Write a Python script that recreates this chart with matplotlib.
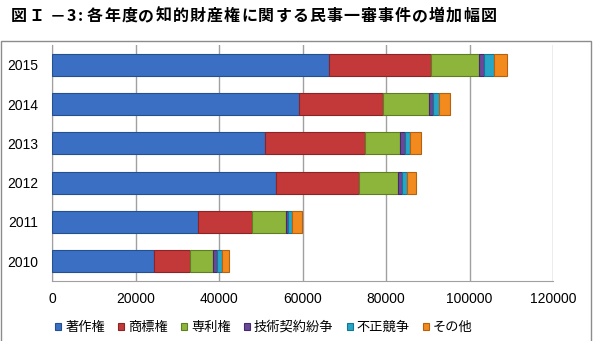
import matplotlib
matplotlib.use("Agg")
import matplotlib.pyplot as plt
from matplotlib.patches import Rectangle
import numpy as np

plt.rcParams['font.family'] = ['Noto Sans CJK JP', 'DejaVu Sans']

years = ["2010", "2011", "2012", "2013", "2014", "2015"]
series = ["著作権", "商標権", "専利権", "技術契約紛争", "不正競争", "その他"]
copyright_ = [24400, 35000, 53700, 51000, 59200, 66300]
trademark = [8700, 12900, 19800, 24000, 20100, 24500]
patent = [5500, 8100, 9400, 8400, 11000, 11500]
tech_contract = [900, 500, 900, 1100, 1000, 1200]
unfair_comp = [1200, 1000, 1200, 1300, 1400, 2400]
other = [1700, 2400, 2200, 2600, 2600, 3100]
values = [copyright_, trademark, patent, tech_contract, unfair_comp, other]
xticks = [0, 20000, 40000, 60000, 80000, 100000, 120000]
title = "図Ｉ－3:各年度の知的財産権に関する民事一審事件の増加幅図"

colors = ["#3B6FC3", "#C3393A", "#8DB43B", "#6A479A", "#27A6C8", "#F28A1E"]
edges = ["#24508F", "#8A2425", "#5F7E24", "#432C66", "#167591", "#B5610F"]

W, H = 593, 341
fig = plt.figure(figsize=(W / 100, H / 100), dpi=100)
# outer chart border
fig.patches.append(Rectangle((0.002, -0.05), 0.995, 0.93, transform=fig.transFigure,
                             fill=False, edgecolor="#8c8c8c", linewidth=1.0))

ax = fig.add_axes([0.0877, 0.176, 0.8449, 0.692])
y = np.arange(len(years))
left = np.zeros(len(years))
for name, vals, c, ec in zip(series, values, colors, edges):
    ax.barh(y, vals, left=left, height=0.56, color=c, edgecolor=ec, linewidth=0.8,
            label=name, zorder=3)
    left += np.array(vals)

num_font = ['Liberation Sans', 'DejaVu Sans']
ax.set_xlim(0, 120000)
ax.set_ylim(-0.5, len(years) - 0.5)
ax.set_xticks(xticks)
ax.set_xticklabels([str(v) for v in xticks], fontsize=10, family=num_font)
ax.set_yticks(y)
ax.set_yticklabels(years, fontsize=10, family=num_font)
ax.tick_params(length=0)
ax.tick_params(axis='y', pad=10)
ax.tick_params(axis='x', pad=8)
ax.xaxis.grid(True, color="#a0a0a0", linewidth=1.0, zorder=0)
ax.set_axisbelow(True)
for s in ["top", "right"]:
    ax.spines[s].set_visible(False)
ax.spines["left"].set_color("#a0a0a0")
ax.spines["bottom"].set_color("#a0a0a0")

fig.legend(loc="center", bbox_to_anchor=(0.445, 0.04), ncol=6, frameon=False,
           fontsize=9.5, handlelength=0.45, handleheight=0.45, handletextpad=0.3,
           columnspacing=1.0)

# letter-spaced title, one character at a time (pixel centres)
advance = {"図": 17.5, "Ｉ": 21.5, "－": 14.0, "3": 9.0, ":": 14.5}
px = 18.5
for i, ch in enumerate(title):
    fig.text(px / W, 1 - 16 / H, ch, fontsize=11.5, fontweight="bold",
             ha="center", va="center")
    px += advance.get(ch, 17.1) if i < 5 else 17.1

fig.savefig("out.png", dpi=100)
